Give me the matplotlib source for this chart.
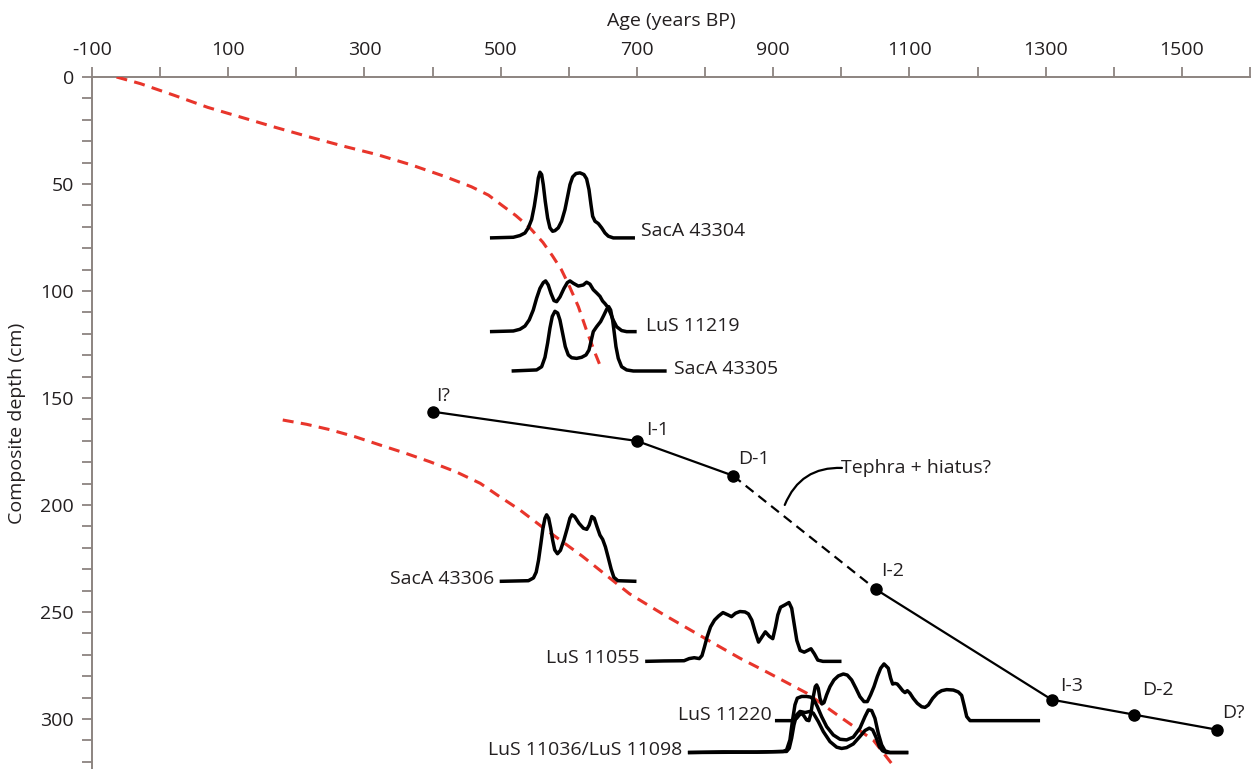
import matplotlib
matplotlib.use("Agg")
import matplotlib.pyplot as plt
from matplotlib.patches import FancyArrowPatch

# ---------------- data ----------------
# Age-depth model points (age yr BP, depth cm)
model_labels = ["I?", "I-1", "D-1", "I-2", "I-3", "D-2", "D?"]
model_ages = [400, 700, 841, 1051, 1309, 1430, 1551]
model_depths = [156.4, 170.1, 186.3, 239.5, 291.0, 298.0, 305.0]

# Red dashed curves (upper and lower)
red1_ages = [-64, -29, 21, 70, 120, 170, 219, 269, 319, 368, 418, 457, 482, 502, 522,
             542, 562, 576, 589, 601, 614, 626, 639, 648]
red1_depths = [0, 3.1, 8.6, 14.2, 18.9, 23.6, 28, 32.3, 36.3, 41, 46.5, 51.3, 55.2, 60, 64.7,
               70.2, 77.3, 83.6, 90, 97.9, 107.3, 118.4, 129.4, 136.5]
red2_ages = [180, 215, 249, 286, 323, 360, 396, 435, 470, 496, 528, 561, 620, 689, 739, 804,
             851, 889, 949, 998, 1047, 1076]
red2_depths = [160.3, 162.3, 164.8, 168.1, 172, 175.8, 179.8, 184.6, 189.9, 195.6, 202.3,
               210.3, 224.0, 241.5, 251.2, 263.1, 271.6, 277.8, 287.9, 299, 309.9, 321.7]

# Calibrated age distributions: sample depth (cm), ages, relative probability (plot cm)
sample_depths = [75.2, 119.0, 137.4, 235.7, 273.1, 300.8, 315.7, 315.7]

sacA43304_ages = [484.2, 518.5, 528.2, 535.6, 540.5, 545.4, 549.3, 552.7, 555.2, 557.6, 560.1,
                  562.5, 565.4, 568.9, 572.3, 576.2, 579.6, 584.5, 589.4, 594.3, 597.8, 601.7,
                  605.6, 610.5, 616.4, 622.2, 626.1, 629.6, 632.5, 635, 638.4, 643.3, 648.2,
                  653.1, 658, 665.3, 697.1]
sacA43304_prob = [0, 0.3, 1.1, 2.3, 4.7, 8.6, 14.8, 21.8, 28, 30.7, 29.6,
                  24.9, 17.1, 9.3, 4.7, 3.1, 3.4, 4.7, 7.8, 13.2, 18.7, 24.9,
                  28.5, 30.1, 30.4, 29.6, 27.6, 22.6, 15.6, 10.1, 7.8, 6.7, 4.7,
                  2.3, 0.8, 0, 0]

lus11219_ages = [484.2, 518.5, 528.2, 535.6, 541.9, 547.8, 552.7, 557.6, 562.5, 565.9, 569.8,
                 573.8, 578.2, 582.1, 587, 592.9, 597.8, 601.7, 606.6, 613.9, 621.2, 626.1,
                 631, 635.9, 640.8, 645.7, 649.6, 653.1, 657, 661.4, 665.3, 670.2, 677.5,
                 684.9, 699.6]
lus11219_prob = [0, 0.3, 1.1, 2.6, 5.5, 10.1, 15.6, 20.2, 22.9, 23.7, 21.8,
                 17.9, 14.5, 14, 16.2, 20.2, 22.9, 23.7, 22.6, 21.3, 21.8, 23.1,
                 22.2, 19.6, 18.1, 16.5, 14.3, 13.1, 11.5, 8.4, 5.3, 2.3, 0.5,
                 0, 0]

sacA43305_ages = [516, 552.7, 560.1, 565, 568.9, 572.3, 575.7, 579.6, 583.6, 587, 590.9,
                  594.8, 599.2, 604.1, 611.5, 618.8, 625.2, 629.6, 632.5, 635.9, 640.8,
                  646.7, 651.6, 655.5, 658.5, 661.4, 664.3, 666.8, 669.2, 672.6, 677.5,
                  684.9, 694.7, 743.6]
sacA43305_prob = [0, 0.5, 2, 6.4, 13.1, 20.1, 25.5, 27.9, 27.1, 23.8, 17.6,
                  11.4, 7.5, 6.2, 5.9, 6.4, 7.5, 9.8, 13.7, 18.4, 20.7,
                  23.1, 26.2, 28.8, 30.1, 28.5, 23.8, 17.6, 11.4, 5.9, 2,
                  0.5, 0, 0]

sacA43306_ages = [498.5, 540.7, 548.1, 552.1, 555.5, 559, 562, 565, 567.4, 570.4, 573.4,
                  576.3, 579.3, 583.3, 587.7, 592.7, 597.7, 601.6, 604.6, 608.6, 615, 621.4,
                  626.4, 629.9, 633.8, 637.3, 641.3, 645.7, 649.7, 653.7, 657.6, 662.1,
                  666.1, 672, 699.3]
sacA43306_prob = [0, 0.3, 1.6, 4.3, 9.8, 17.7, 24.8, 29.5, 31.1, 29.5, 24.8,
                  19.2, 14.7, 12.9, 14.5, 19.2, 24.8, 29.5, 31.1, 30.3, 27.1, 24.8,
                  24.3, 26.3, 30.3, 29.5, 25.6, 21.6, 19.6, 16.1, 11.4, 5.8,
                  1.9, 0.3, 0]

lus11055_ages = [712.1, 739.4, 769.2, 776.7, 784.1, 791.6, 795.5, 799, 803, 808, 813.9,
                 819.9, 826.3, 833.8, 838.8, 844.7, 851.2, 858.6, 863.6, 868.6, 873.6,
                 878.5, 883.5, 888.5, 894.4, 899.4, 903.4, 906.8, 910.8, 917.3, 923.2,
                 927.2, 930.7, 934.7, 939.6, 945.6, 950.6, 955.5, 960.5, 965.5, 973, 1000.3]
lus11055_prob = [0, 0.2, 0.3, 1.3, 1.7, 1.3, 2.7, 6.6, 11.4, 16.1, 19.3,
                 21.2, 22.8, 21.7, 20.9, 22.5, 23.3, 23.1, 22.2, 19.3, 13.8,
                 9, 11.4, 13.8, 11.7, 10.6, 16.1, 21.7, 25.3, 26.4, 27.5,
                 24.8, 17.7, 9.8, 5.1, 4.3, 5.1, 5.9, 3.5, 0.6, 0, 0]

lus11220_ages = [902.6, 929.5, 934.4, 938.3, 941.8, 945.2, 949.1, 952.5, 955.5, 958.9, 961.8,
                 963.8, 966.2, 968.7, 971.6, 974.6, 978.5, 983.4, 989.2, 995.6, 1003, 1008.8,
                 1015.2, 1021.5, 1027.4, 1033.3, 1038.2, 1043.1, 1048, 1052.9, 1057.8,
                 1062.7, 1069, 1072.5, 1075.4, 1078.8, 1082.2, 1086.2, 1090.1, 1093.5,
                 1096.9, 1100.8, 1105.7, 1111.6, 1118, 1122.9, 1127.8, 1134.1, 1141,
                 1147.3, 1154.7, 1164.5, 1171.8, 1176.7, 1180.2, 1184.1, 1189, 1291.8]
lus11220_prob = [0, 0, 1.1, 2.6, 3.4, 2.2, 0.3, 0, 3.4, 11.2, 15.9,
                 16.7, 15.1, 10.4, 7.8, 8.4, 12.1, 15.9, 19, 20.9, 21.8, 21.3,
                 19, 15.1, 11.2, 8.9, 8.9, 12.1, 15.9, 20.6, 24.5,
                 26.5, 24.5, 19.8, 17.1, 17.4, 17.1, 15.6, 14, 13.1,
                 14, 12.8, 10.4, 8.1, 6.5, 6.2, 7.3, 10.4, 12.8,
                 14, 14.5, 14.3, 13.4, 11.8, 7.3, 1.9, 0, 0]

lus11036_ages = [774.8, 826.7, 875.7, 914.8, 919.7, 924.6, 928.5, 932, 935.4, 941.8, 949.1,
                 955, 959.9, 964.8, 971.1, 978.5, 988.3, 998.1, 1007.8, 1017.6, 1027.4,
                 1034.8, 1039.7, 1044.6, 1049.4, 1054.3, 1059.2, 1064.1, 1071.5, 1098.4]
lus11036_prob = [0, 0.3, 0.2, 0.5, 1.2, 5.9, 15.3, 22.3, 25.4, 26.2, 26.2,
                 25.9, 24.6, 21.5, 16.8, 12.1, 8.2, 6.2, 5.9, 7.2, 11.4,
                 16.8, 19.9, 19.6, 16, 9, 3.6, 0.8, 0, 0]

lus11098_ages = [774.8, 875.7, 919.7, 923.6, 927.1, 930.5, 934.4, 939.3, 946.7, 954, 958.9,
                 966.2, 973.6, 983.4, 993.2, 1000.5, 1007.8, 1017.6, 1027.4, 1034.8, 1041.1,
                 1046, 1050.9, 1055.8, 1060.7, 1066.6, 1098.4]
lus11098_prob = [0, 0.2, 0.5, 2, 6.7, 12.9, 17.6, 19.2, 18.7, 19.2, 18.4,
                 14.5, 9.8, 5.1, 2.5, 1.9, 2.3, 4, 7.5, 10.3, 11.4,
                 10.6, 7.2, 2.8, 0.8, 0, 0]

distributions = [
    (sacA43304_ages, sacA43304_prob),
    (lus11219_ages, lus11219_prob),
    (sacA43305_ages, sacA43305_prob),
    (sacA43306_ages, sacA43306_prob),
    (lus11055_ages, lus11055_prob),
    (lus11220_ages, lus11220_prob),
    (lus11036_ages, lus11036_prob),
    (lus11098_ages, lus11098_prob),
]

x_ticks = list(range(-100, 1601, 100))
x_ticklabels = [str(v) if (v + 100) % 200 == 0 and v <= 1500 else "" for v in x_ticks]
y_ticks = list(range(0, 321, 10))
y_ticklabels = [str(v) if v % 50 == 0 else "" for v in y_ticks]

# ---------------- plot ----------------
plt.rcParams["font.family"] = ["Open Sans", "DejaVu Sans"]
TXT = "#231f20"
AX = "#8c8480"

W, H = 1252, 769
fig = plt.figure(figsize=(W / 100, H / 100), dpi=100)
ax = fig.add_axes([92 / W, 0, (1250 - 92) / W, 1 - 77 / H])
ax.set_xlim(-100, 1600)
ax.set_ylim(323.4, 0)

ax.xaxis.tick_top()
ax.xaxis.set_label_position("top")
for s in ("bottom", "right"):
    ax.spines[s].set_visible(False)
for s in ("top", "left"):
    ax.spines[s].set_color(AX)
    ax.spines[s].set_linewidth(1.4)

ax.set_xticks(x_ticks)
ax.set_xticklabels(x_ticklabels)
ax.set_yticks(y_ticks)
ax.set_yticklabels(y_ticklabels)
ax.tick_params(axis="both", direction="out", length=7, width=1.3, color=AX,
               labelsize=14, labelcolor=TXT, pad=6)
ax.set_xlabel("Age (years BP)", fontsize=14, color=TXT, labelpad=11)
ax.set_ylabel("Composite depth (cm)", fontsize=14, color=TXT, labelpad=10)

# red dashed curves
for a, d in ((red1_ages, red1_depths), (red2_ages, red2_depths)):
    ax.plot(a, d, color="#e8352b", lw=2.2, linestyle=(0, (3.6, 2.4)), zorder=3)

# distributions
for (ages, prob), depth in zip(distributions, sample_depths):
    ax.plot(ages, [depth - p for p in prob], color="black", lw=2.5,
            solid_joinstyle="round", solid_capstyle="butt", zorder=4)

# age-depth model line
ax.plot(model_ages[:3], model_depths[:3], color="black", lw=1.6, zorder=5)
ax.plot(model_ages[2:4], model_depths[2:4], color="black", lw=1.6,
        linestyle=(0, (4.5, 2.8)), zorder=5)
ax.plot(model_ages[3:], model_depths[3:], color="black", lw=1.6, zorder=5)
ax.plot(model_ages, model_depths, "o", color="black", ms=8, zorder=6)

# point labels
lab_pos = {"I?": (415, 149, "center"), "I-1": (714, 165, "left"),
           "D-1": (848, 178.3, "left"), "I-2": (1059, 231, "left"),
           "I-3": (1321, 284.6, "left"), "D-2": (1441, 286.5, "left"),
           "D?": (1559, 297, "left")}
for lab in model_labels:
    x, y, ha = lab_pos[lab]
    ax.text(x, y, lab, fontsize=14, color=TXT, ha=ha, va="center")

# sample labels
ax.text(706, 72.2, "SacA 43304", fontsize=14, color=TXT, ha="left", va="center")
ax.text(712.8, 116.4, "LuS 11219", fontsize=14, color=TXT, ha="left", va="center")
ax.text(754.8, 136.6, "SacA 43305", fontsize=14, color=TXT, ha="left", va="center")
ax.text(491, 234.7, "SacA 43306", fontsize=14, color=TXT, ha="right", va="center")
ax.text(704, 271.5, "LuS 11055", fontsize=14, color=TXT, ha="right", va="center")
ax.text(898, 298, "LuS 11220", fontsize=14, color=TXT, ha="right", va="center")
ax.text(767, 314.3, "LuS 11036/LuS 11098", fontsize=14, color=TXT, ha="right", va="center")

# tephra annotation
ax.text(1000, 182.7, "Tephra + hiatus?", fontsize=14, color=TXT, ha="left", va="center")
arc = FancyArrowPatch((917, 200), (1001, 182.7), arrowstyle="-",
                      connectionstyle="arc3,rad=-0.35", color="black", lw=1.6,
                      shrinkA=0, shrinkB=0, zorder=5)
ax.add_patch(arc)

fig.savefig("out.png", dpi=100)
